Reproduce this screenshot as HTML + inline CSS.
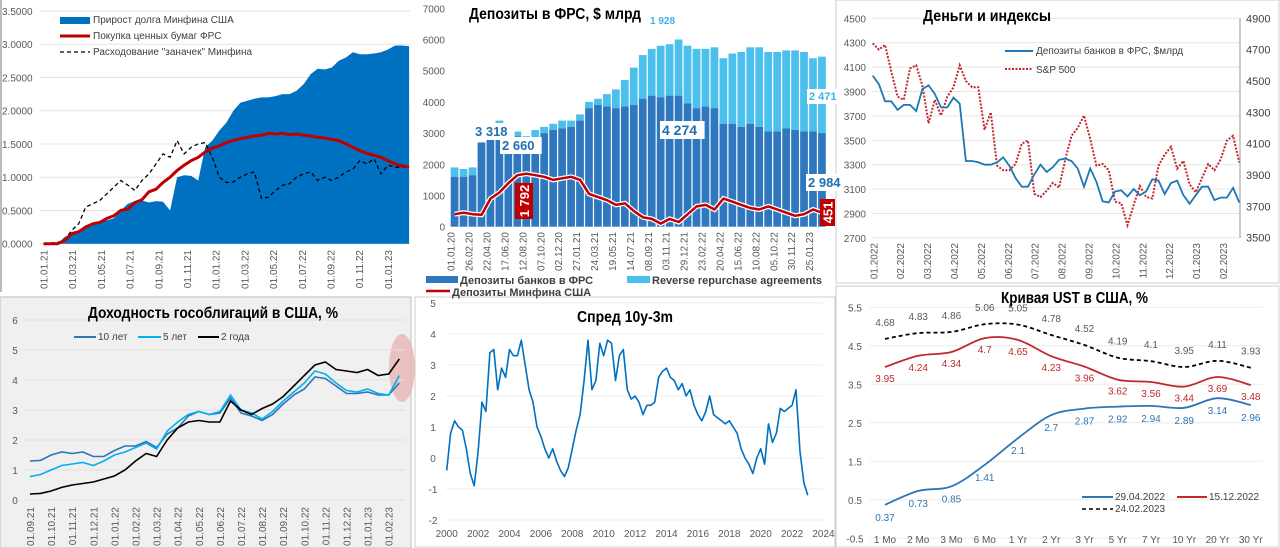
<!DOCTYPE html>
<html><head><meta charset="utf-8">
<style>
html,body{margin:0;padding:0;background:#fff;}
svg{display:block;font-family:"Liberation Sans",Arial,sans-serif;}
.ax{font-size:10px;fill:#595959;}
.tt{font-size:16px;font-weight:bold;fill:#000;}
.lg{font-size:10px;fill:#404040;}
</style></head>
<body>
<svg id="chart" width="1280" height="548" viewBox="0 0 1280 548" xmlns="http://www.w3.org/2000/svg">
  <rect x="0" y="0" width="416" height="292" fill="#fff"/>
  <line x1="1" y1="0" x2="1" y2="292" stroke="#bbb" stroke-width="2"/>
  <rect x="418" y="0" width="416" height="296" fill="#fff"/>
  <rect x="836" y="0" width="443" height="283" fill="#fff" stroke="#ccc"/>
  <rect x="0" y="297" width="411" height="251" fill="#f0f0f0" stroke="#bbb"/>
  <rect x="415" y="297" width="420" height="250" fill="#fff" stroke="#ccc"/>
  <rect x="836" y="286" width="443" height="261" fill="#fff" stroke="#ccc"/>
  <g id="p1"></g><g id="p2"></g><g id="p3"></g><g id="p4"></g><g id="p5"></g><g id="p6"></g>

  <rect x="60" y="17" width="30" height="7" fill="#0070c0"/>
  <text class="lg" x="93" y="23">Прирост долга Минфина США</text>
  <line x1="60" y1="36" x2="90" y2="36" stroke="#c00000" stroke-width="3"/>
  <text class="lg" x="93" y="39">Покупка ценных бумаг ФРС</text>
  <line x1="60" y1="52" x2="90" y2="52" stroke="#000" stroke-width="1.3" stroke-dasharray="4,3"/>
  <text class="lg" x="93" y="55">Расходование "заначек" Минфина</text>

  <text class="tt" x="469" y="19" font-size="15" textLength="172" lengthAdjust="spacingAndGlyphs">Депозиты в ФРС, $ млрд</text>
  <rect x="426" y="276" width="32" height="7" fill="#2f78c0"/>
  <text x="460" y="284" font-size="11" font-weight="bold" fill="#404040">Депозиты банков в ФРС</text>
  <rect x="627" y="276" width="23" height="7" fill="#4cc0ec"/>
  <text x="652" y="284" font-size="11" font-weight="bold" fill="#404040">Reverse repurchase agreements</text>
  <line x1="426" y1="291" x2="450" y2="291" stroke="#c00000" stroke-width="2.5"/>
  <text x="452" y="296" font-size="11" font-weight="bold" fill="#404040">Депозиты Минфина США</text>

  <text class="tt" x="923" y="21" textLength="128" lengthAdjust="spacingAndGlyphs">Деньги и индексы</text>
  <line x1="1005" y1="51" x2="1033" y2="51" stroke="#1f77b4" stroke-width="2"/>
  <text class="lg" x="1036" y="54">Депозиты банков в ФРС, $млрд</text>
  <line x1="1005" y1="69" x2="1033" y2="69" stroke="#c0282d" stroke-width="2" stroke-dasharray="2,1.5"/>
  <text class="lg" x="1036" y="73">S&amp;P 500</text>

  <text class="tt" x="88" y="318" textLength="250" lengthAdjust="spacingAndGlyphs">Доходность гособлигаций в США, %</text>
  <line x1="74" y1="337" x2="96" y2="337" stroke="#2e75b6" stroke-width="2"/>
  <text class="lg" x="98" y="340">10 лет</text>
  <line x1="138" y1="337" x2="161" y2="337" stroke="#00b0f0" stroke-width="2"/>
  <text class="lg" x="163" y="340">5 лет</text>
  <line x1="198" y1="337" x2="219" y2="337" stroke="#000" stroke-width="2"/>
  <text class="lg" x="221" y="340">2 года</text>

  <text class="tt" x="577" y="322" textLength="96" lengthAdjust="spacingAndGlyphs">Спред 10y-3m</text>

  <text class="tt" x="1001" y="303" textLength="147" lengthAdjust="spacingAndGlyphs">Кривая UST в США, %</text>
  <line x1="1082" y1="497" x2="1113" y2="497" stroke="#2e75b6" stroke-width="2"/>
  <text class="lg" x="1115" y="500">29.04.2022</text>
  <line x1="1177" y1="497" x2="1207" y2="497" stroke="#c0282d" stroke-width="2"/>
  <text class="lg" x="1209" y="500">15.12.2022</text>
  <line x1="1082" y1="509" x2="1113" y2="509" stroke="#000" stroke-width="1.5" stroke-dasharray="4,3"/>
  <text class="lg" x="1115" y="512">24.02.2023</text>
</svg>
<script>
// ---------- DATA ----------
const debtVals = [0,0,0,0.1,0.15,0.2,0.28,0.3,0.32,0.35,0.38,0.5,0.6,0.64,0.65,0.62,0.64,0.63,0.5,1.0,1.03,1.02,0.95,1.45,1.55,1.7,1.82,2.0,2.12,2.15,2.18,2.2,2.2,2.22,2.25,2.25,2.3,2.4,2.55,2.63,2.62,2.65,2.75,2.8,2.88,2.85,2.85,2.86,2.88,2.92,2.98,2.98,2.97];
const fedVals = [0,0,0,0.05,0.15,0.18,0.25,0.3,0.32,0.38,0.42,0.5,0.52,0.62,0.66,0.78,0.82,0.92,1.0,1.1,1.18,1.25,1.3,1.38,1.44,1.47,1.52,1.55,1.58,1.6,1.62,1.63,1.66,1.65,1.66,1.64,1.65,1.63,1.62,1.6,1.59,1.57,1.55,1.5,1.45,1.4,1.36,1.33,1.3,1.25,1.2,1.17,1.15];
const stashVals = [0,0.01,0.02,0.05,0.2,0.3,0.55,0.6,0.65,0.75,0.85,0.95,0.88,0.8,0.95,1.05,1.2,1.35,1.3,1.55,1.35,1.45,1.5,1.52,1.3,1.0,0.92,0.93,1.0,1.05,1.08,0.68,0.7,0.8,0.88,0.9,1.0,1.05,1.08,0.95,1.0,0.95,1.0,1.08,1.12,1.25,1.2,1.28,1.05,1.18,1.15,1.15,1.15];
const p1YTicks = ["0.0000","0.5000","1.0000","1.5000","2.0000","2.5000","3.0000","3.5000"];
const p1XLabels = ["01.01.21","01.03.21","01.05.21","01.07.21","01.09.21","01.11.21","01.01.22","01.03.22","01.05.22","01.07.22","01.09.22","01.11.22","01.01.23"];

const depTotal = [1900,1850,1900,2700,3000,3400,3100,3050,2900,3100,3200,3300,3400,3400,3600,4000,4100,4250,4400,4700,5100,5500,5700,5800,5850,6000,5800,5700,5700,5750,5400,5550,5600,5750,5750,5600,5600,5650,5650,5600,5400,5450];
const depBanks = [1600,1600,1650,2700,2900,3300,3000,2900,2700,2850,3000,3100,3150,3200,3400,3800,3900,3850,3800,3850,3900,4100,4200,4150,4200,4200,3950,3800,3850,3800,3300,3300,3200,3300,3200,3050,3050,3150,3100,3050,3050,3000];
const depTreasury = [400,450,400,380,900,1100,1400,1650,1700,1650,1600,1500,1550,1600,1500,1050,950,850,700,750,500,300,250,100,250,150,400,650,700,550,900,800,700,600,550,650,550,450,350,400,550,450];
const p2YTicks = [0,1000,2000,3000,4000,5000,6000,7000];
const p2XLabels = ["01.01.20","26.02.20","22.04.20","17.06.20","12.08.20","07.10.20","02.12.20","27.01.21","24.03.21","19.05.21","14.07.21","08.09.21","03.11.21","29.12.21","23.02.22","20.04.22","15.06.22","10.08.22","05.10.22","30.11.22","25.01.23"];

const moneyDeposits = [4030,3960,3820,3820,3750,3790,3790,3740,3920,3950,3880,3770,3770,3850,3800,3330,3330,3320,3300,3300,3320,3360,3290,3190,3120,3120,3220,3300,3240,3280,3340,3350,3330,3270,3120,3270,3160,3000,2990,3080,3090,3040,3100,3050,3080,3180,3170,3060,3150,3170,3050,2980,3050,3120,3120,3010,3030,3030,3110,2990];
const sp500 = [4740,4700,4730,4560,4400,4380,4580,4600,4470,4230,4380,4280,4400,4460,4600,4500,4460,4460,4190,4300,3960,3930,3930,3970,4100,4120,3780,3760,3800,3850,3820,4000,4150,4200,4280,4130,3960,3970,3930,3730,3720,3580,3710,3830,3760,3750,3960,4030,4080,3940,3990,3840,3790,3880,3970,3930,4000,4120,4150,3980];
const p3LTicks = [2700,2900,3100,3300,3500,3700,3900,4100,4300,4500];
const p3RTicks = [3500,3700,3900,4100,4300,4500,4700,4900];
const p3XLabels = ["01.2022","02.2022","03.2022","04.2022","05.2022","06.2022","07.2022","08.2022","09.2022","10.2022","11.2022","12.2022","01.2023","02.2023"];

const y10 = [1.3,1.32,1.5,1.6,1.55,1.6,1.45,1.45,1.65,1.8,1.8,1.95,1.75,2.2,2.4,2.8,2.95,2.85,2.9,3.4,2.9,2.8,2.65,2.85,3.2,3.5,3.7,4.1,4.05,3.8,3.55,3.55,3.6,3.5,3.5,3.9];
const y5 = [0.78,0.85,1.0,1.15,1.2,1.25,1.15,1.3,1.5,1.6,1.75,1.9,1.7,2.3,2.6,2.85,2.95,2.85,2.95,3.5,3.0,2.9,2.7,2.95,3.3,3.6,3.9,4.3,4.2,3.9,3.65,3.6,3.7,3.55,3.5,4.15];
const y2 = [0.2,0.22,0.3,0.42,0.5,0.55,0.6,0.7,0.8,1.0,1.3,1.55,1.45,2.0,2.4,2.6,2.65,2.6,2.6,3.3,3.0,2.85,3.05,3.2,3.45,3.8,4.15,4.5,4.6,4.35,4.3,4.25,4.35,4.15,4.2,4.7];
const p4YTicks = [0,1,2,3,4,5,6];
const p4XLabels = ["01.09.21","01.10.21","01.11.21","01.12.21","01.01.22","01.02.22","01.03.22","01.04.22","01.05.22","01.06.22","01.07.22","01.08.22","01.09.22","01.10.22","01.11.22","01.12.22","01.01.23","01.02.23"];

const spreadVals = [-0.4,0.8,1.2,1.0, 0.9,0.3,-0.5,-0.9, 0.2,1.8,1.5,3.4, 3.5,2.2,2.9,2.6, 3.5,3.3,3.3,3.8, 3.0,2.2,1.8,1.0, 0.7,0.3,0.0,0.3, -0.1,-0.4,-0.6,-0.3, 0.3,0.9,1.4,2.5, 3.8,2.2,2.5,3.7, 3.3,3.8,3.7,2.5, 3.3,3.5,2.2,1.9, 2.0,1.8,1.4,1.7, 1.7,1.8,2.6,2.8, 2.9,2.6,2.5,2.2, 2.4,2.0,2.2,1.7, 1.4,1.2,1.5,2.0, 1.4,1.3,1.2,1.1, 1.2,1.0,0.8,0.3, 0.0,-0.2,-0.5,0.0, 0.3,-0.2,1.1,0.5, 0.8,1.6,1.5,1.6, 1.7,2.2,0.2,-0.8, -1.2];
const p5YTicks = [-2,-1,0,1,2,3,4,5];
const p5XLabels = [2000,2002,2004,2006,2008,2010,2012,2014,2016,2018,2020,2022,2024];

const ustTenors = ["1 Mo","2 Mo","3 Mo","6 Mo","1 Yr","2 Yr","3 Yr","5 Yr","7 Yr","10 Yr","20 Yr","30 Yr"];
const ust0429 = [0.37,0.73,0.85,1.41,2.1,2.7,2.87,2.92,2.94,2.89,3.14,2.96];
const ust1215 = [3.95,4.24,4.34,4.7,4.65,4.23,3.96,3.62,3.56,3.44,3.69,3.48];
const ust0224 = [4.68,4.83,4.86,5.06,5.05,4.78,4.52,4.19,4.1,3.95,4.11,3.93];
const p6YTicks = [-0.5,0.5,1.5,2.5,3.5,4.5,5.5];

// ---------- HELPERS ----------
const NS='http://www.w3.org/2000/svg';
function mk(parent,tag,attrs,text){const e=document.createElementNS(NS,tag);for(const k in attrs)e.setAttribute(k,attrs[k]);if(text!==undefined)e.textContent=text;parent.appendChild(e);return e;}
function pathOf(pts){return pts.map((p,i)=>(i?'L':'M')+p[0].toFixed(1)+','+p[1].toFixed(1)).join('');}
function smoothPath(pts){let d='M'+pts[0][0]+','+pts[0][1];for(let i=0;i<pts.length-1;i++){const p0=pts[i-1]||pts[i],p1=pts[i],p2=pts[i+1],p3=pts[i+2]||p2;const c1=[p1[0]+(p2[0]-p0[0])/6,p1[1]+(p2[1]-p0[1])/6],c2=[p2[0]-(p3[0]-p1[0])/6,p2[1]-(p3[1]-p1[1])/6];d+='C'+c1[0].toFixed(1)+','+c1[1].toFixed(1)+' '+c2[0].toFixed(1)+','+c2[1].toFixed(1)+' '+p2[0].toFixed(1)+','+p2[1].toFixed(1);}return d;}
function rotLabel(g,x,y,t,name){const e=mk(g,'text',{class:'ax',x:x,y:y,'text-anchor':'end',transform:'rotate(-90 '+x+' '+y+')'},t);


return e;}

// ---------- PANEL 1 ----------
(function(){
const g=document.getElementById('p1');
const x1=m=>43.5+m*14.35, y1=v=>243.7-v*66.5;
const step=0.49;
p1YTicks.forEach(t=>{const v=parseFloat(t);
 const l=mk(g,'line',{x1:40,x2:410,y1:y1(v),y2:y1(v),stroke:'#e3e3e3'});
 
 
 const tx=mk(g,'text',{class:'ax',x:2,y:y1(v)+4},t);
 
 });
p1XLabels.forEach((t,i)=>rotLabel(g,x1(i*2)+4,250,t,'debt-x-tick'));
const apts=debtVals.map((v,i)=>[x1(i*step),y1(v)]);
const area=mk(g,'path',{d:pathOf([[x1(0),y1(0)]].concat(apts,[[x1((debtVals.length-1)*step),y1(0)]]))+'Z',fill:'#0070c0'});


const st=mk(g,'path',{d:pathOf(stashVals.map((v,i)=>[x1(i*step),y1(v)])),fill:'none',stroke:'#000','stroke-width':1.3,'stroke-dasharray':'4,3'});


const fd=mk(g,'path',{d:pathOf(fedVals.map((v,i)=>[x1(i*step),y1(v)])),fill:'none',stroke:'#c00000','stroke-width':3,'stroke-linejoin':'round'});


})();

// ---------- PANEL 2 ----------
(function(){
const g=document.getElementById('p2');
const x2=w=>451.7+w*2.24, y2=v=>226.7-v*0.0312;
p2YTicks.forEach(v=>{const tx=mk(g,'text',{class:'ax',x:445,y:y2(v)+4,'text-anchor':'end'},String(v));
 
 });
p2XLabels.forEach((t,i)=>rotLabel(g,x2(i*8)+3,232,t,'deposits-x-tick'));
const bw=4*2.24;
depTotal.forEach((tot,i)=>{const x=x2(i*4)-1;
 const r1=mk(g,'rect',{x:x,y:y2(tot),width:bw-1.2,height:y2(depBanks[i])-y2(tot),fill:'#4cc0ec'});
 
 
 const r2=mk(g,'rect',{x:x,y:y2(depBanks[i]),width:bw-1.2,height:y2(0)-y2(depBanks[i]),fill:'#2f78c0'});
 
 });
const tp=depTreasury.map((v,i)=>[x2(i*4)+3,y2(v)]);
const halo=mk(g,'path',{d:pathOf(tp),fill:'none',stroke:'#fff','stroke-width':5});


const tl=mk(g,'path',{d:pathOf(tp),fill:'none',stroke:'#c00000','stroke-width':2.5,'stroke-linejoin':'round'});


const ann=[[475,124,'3 318','#1f6fb2',13],[502,138,'2 660','#1f6fb2',13],[650,15,'1 928','#3cb4e5',10],[662,122,'4 274','#1f6fb2',14],[809,90,'2 471','#3cb4e5',11],[808,175,'2 984','#1f6fb2',13]];
ann.forEach(a=>{const w=a[2].length*a[4]*0.58;
 const r=mk(g,'rect',{x:a[0]-2,y:a[1]-1,width:w+4,height:a[4]+4,fill:'#fff'});
 
 
 const t=mk(g,'text',{x:a[0],y:a[1]+a[4]-1,'font-size':a[4],'font-weight':'bold',fill:a[3]},a[2]);
 
 });
[[515,183,18,36,'1 792'],[820,199,15,27,'451']].forEach(a=>{
 const r=mk(g,'rect',{x:a[0],y:a[1],width:a[2],height:a[3],fill:'#c00000'});
 
 
 const cx=a[0]+a[2]/2+5, cy=a[1]+a[3]/2;
 const t=mk(g,'text',{x:cx,y:cy,'font-size':13,'font-weight':'bold',fill:'#fff','text-anchor':'middle',transform:'rotate(-90 '+cx+' '+cy+')'},a[4]);
 
 });
})();

// ---------- PANEL 3 ----------
(function(){
const g=document.getElementById('p3');
const x3=(i,n)=>872.7+i*(1239.3-872.7)/(n-1);
const yL=v=>18.3+(4500-v)*0.122, yR=v=>18.3+(4900-v)*(219.4/1400);
p3LTicks.forEach(v=>{const l=mk(g,'line',{x1:872,x2:1240,y1:yL(v),y2:yL(v),stroke:'#e6e6e6'});
 
 
 const t=mk(g,'text',{class:'ax',x:866,y:yL(v)+4,'text-anchor':'end'},String(v));
 
 });
const ax=mk(g,'line',{x1:1240,x2:1240,y1:18,y2:238,stroke:'#999'});


p3RTicks.forEach(v=>{const t=mk(g,'text',{x:1246,y:yR(v)+4,'font-size':11,fill:'#404040'},String(v));
 
 });
p3XLabels.forEach((t,i)=>rotLabel(g,873.3+i*26.9+4,243,t,'money-x-tick'));
const sp=mk(g,'path',{d:pathOf(sp500.map((v,i)=>[x3(i,sp500.length),yR(v)])),fill:'none',stroke:'#c0282d','stroke-width':2,'stroke-dasharray':'2,1.5'});


const md=mk(g,'path',{d:pathOf(moneyDeposits.map((v,i)=>[x3(i,moneyDeposits.length),yL(v)])),fill:'none',stroke:'#1f77b4','stroke-width':1.8});


})();

// ---------- PANEL 4 ----------
(function(){
const g=document.getElementById('p4');
const x4=m=>30+m*21.1, y4=v=>500-v*30;
const el=mk(g,'ellipse',{cx:402,cy:368,rx:13,ry:34,fill:'#e8b4b4',opacity:0.8});


p4YTicks.forEach(v=>{const l=mk(g,'line',{x1:25,x2:405,y1:y4(v),y2:y4(v),stroke:'#e0e0e0'});
 
 
 const t=mk(g,'text',{class:'ax',x:15,y:y4(v)+4,'text-anchor':'middle'},String(v));
 
 });
p4XLabels.forEach((t,i)=>rotLabel(g,x4(i)+4,507,t,'yields-x-tick'));
[[y10,'#2e75b6','yield-10y-line'],[y5,'#00b0f0','yield-5y-line'],[y2,'#000','yield-2y-line']].forEach(s=>{
 const p=mk(g,'path',{d:pathOf(s[0].map((v,i)=>[x4(i*0.5),y4(v)])),fill:'none',stroke:s[1],'stroke-width':1.6});
 
 });
})();

// ---------- PANEL 5 ----------
(function(){
const g=document.getElementById('p5');
const x5=t=>446.7+(t-2000)*15.7, y5=v=>458-v*31;
p5YTicks.forEach(v=>{const l=mk(g,'line',{x1:446,x2:823,y1:y5(v),y2:y5(v),stroke:'#ececec'});
 
 
 const t=mk(g,'text',{class:'ax',x:433,y:y5(v)+4,'text-anchor':'middle'},String(v));
 
 });
p5XLabels.forEach(v=>{const t=mk(g,'text',{class:'ax',x:x5(v),y:537,'text-anchor':'middle'},String(v));
 
 });
const sl=mk(g,'path',{d:pathOf(spreadVals.map((v,i)=>[x5(2000+i*0.25),y5(v)])),fill:'none',stroke:'#0070c0','stroke-width':1.6,'stroke-linejoin':'round'});


})();

// ---------- PANEL 6 ----------
(function(){
const g=document.getElementById('p6');
const x6=i=>885+i*33.25, y6=v=>538.3-(v+0.5)*38.5;
p6YTicks.forEach(v=>{const l=mk(g,'line',{x1:870,x2:1263,y1:y6(v),y2:y6(v),stroke:'#ececec'});
 
 
 const t=mk(g,'text',{class:'ax',x:855,y:y6(v)+4,'text-anchor':'middle'},String(v));
 
 });
ustTenors.forEach((t,i)=>{const e=mk(g,'text',{class:'ax',x:x6(i),y:543,'text-anchor':'middle'},t);
 
 });
[[ust0224,'#000','4,3',-13,'#595959','ust-2402-line'],[ust1215,'#c0282d','',15,'#c0282d','ust-1512-line'],[ust0429,'#2e75b6','',16,'#2e75b6','ust-2904-line']].forEach(s=>{
 const pts=s[0].map((v,i)=>[x6(i),y6(v)]);
 const p=mk(g,'path',{d:smoothPath(pts),fill:'none',stroke:s[1],'stroke-width':1.8,'stroke-dasharray':s[2]||'none'});
 
 
 s[0].forEach((v,i)=>{const t=mk(g,'text',{x:x6(i),y:y6(v)+s[3],'font-size':10,fill:s[4],'text-anchor':'middle'},String(v));
  
  });
});
})();
</script>
</body></html>
